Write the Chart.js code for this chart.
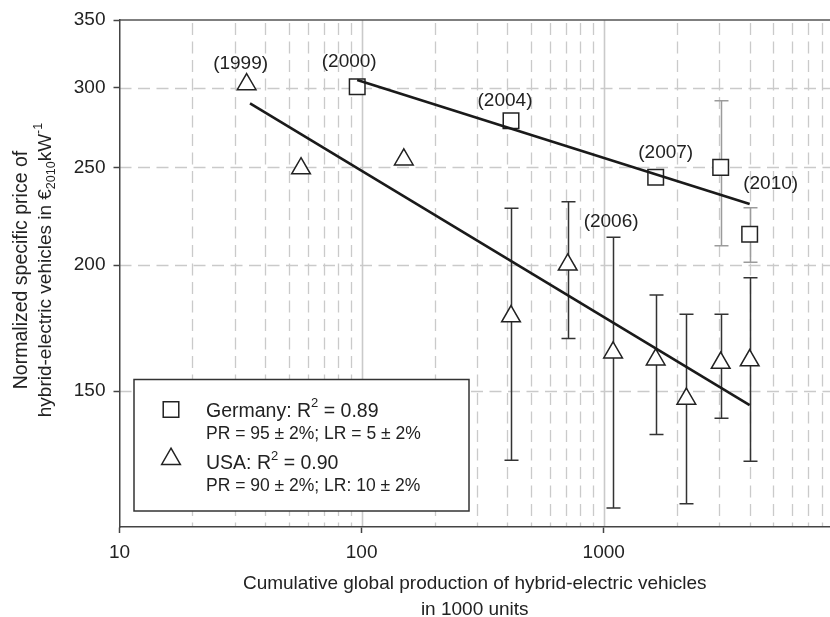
<!DOCTYPE html>
<html>
<head>
<meta charset="utf-8">
<script src="https://cdn.jsdelivr.net/npm/chart.js@4"></script>
<style>
  html, body { margin: 0; padding: 0; background: #fff; }
  #wrap { width: 830px; height: 617px; }
</style>
</head>
<body>
<div id="wrap"><canvas id="c" width="830" height="617"></canvas></div>
<script>
// Germany (squares): cumulative production (1000 units) and price (EUR2010/kW)
const germanyProduction = [95.9, 414, 1639, 3041, 4006];
const germanyPrice      = [300.5, 278.1, 244.4, 250.0, 214.6];
const germanyErrLow     = [null, null, null, 209.1, 201.3];
const germanyErrHigh    = [null, null, null, 291.1, 228.0];

// USA (triangles)
const usaProduction = [33.5, 56.2, 149.4, 414, 710, 1093, 1639, 2194, 3041, 4006];
const usaPrice      = [302.2, 249.4, 254.5, 177.9, 200.2, 163.8, 161.2, 147.4, 160.0, 160.9];
const usaErrLow     = [null, null, null, 128.1, 169.2, 114.9, 135.9, 116.0, 141.0, 127.8];
const usaErrHigh    = [null, null, null, 227.7, 231.1, 213.1, 186.8, 178.8, 178.8, 194.3];

// Fitted experience curves (end points)
const germanyFitX = [95.9, 4006];
const germanyFitY = [305.2, 229.9];
const usaFitX     = [34.6, 4006];
const usaFitY     = [289.4, 145.3];

// Axis ticks
const xTickValues = [10, 20, 30, 40, 50, 60, 70, 80, 90,
                     100, 200, 300, 400, 500, 600, 700, 800, 900,
                     1000, 2000, 3000, 4000, 5000, 6000, 7000, 8000];
const xTickLabels = ['10', '100', '1000'];
const yTickValues = [150, 200, 250, 300, 350];

// Year annotations
const yearLabels = ['(1999)', '(2000)', '(2004)', '(2007)', '(2010)', '(2006)'];

const FONT = "'Liberation Sans', Arial, Helvetica, sans-serif";
const font = (s) => s + 'px ' + FONT;
const TEXT = '#222';
const GRID = '#cacaca';

// where each year annotation sits relative to its mark
const yearPlacement = [
  { series: 'usa',     i: 0, at: 'point', dx: -6, dy: -21 },
  { series: 'germany', i: 0, at: 'point', dx: -8, dy: -25 },
  { series: 'germany', i: 1, at: 'point', dx: -6, dy: -20 },
  { series: 'germany', i: 2, at: 'point', dx: 10, dy: -24.5 },
  { series: 'germany', i: 4, at: 'high',  dx: 21, dy: -23.5 },
  { series: 'usa',     i: 5, at: 'high',  dx: -2, dy: -15.5 }
];

const seriesData = {
  germany: { x: germanyProduction, y: germanyPrice, lo: germanyErrLow, hi: germanyErrHigh, color: '#9b9b9b' },
  usa:     { x: usaProduction,     y: usaPrice,     lo: usaErrLow,     hi: usaErrHigh,     color: '#333' }
};

const toPoints = (xs, ys) => xs.map((v, k) => ({ x: v, y: ys[k] }));

function runsWidth(ctx, runs) {
  let w = 0;
  for (const r of runs) { ctx.font = font(r.size); w += ctx.measureText(r.t).width; }
  return w;
}
function drawRuns(ctx, runs, x, y, align) {
  const w = runsWidth(ctx, runs);
  let cx = align === 'center' ? x - w / 2 : x;
  ctx.textAlign = 'left';
  ctx.textBaseline = 'alphabetic';
  for (const r of runs) {
    ctx.font = font(r.size);
    ctx.fillText(r.t, cx, y + (r.dy || 0));
    cx += ctx.measureText(r.t).width;
  }
}

function marker(ctx, style, x, y, r) {
  ctx.save();
  ctx.fillStyle = '#fff';
  ctx.strokeStyle = '#222';
  ctx.lineWidth = 1.5;
  if (window.Chart && Chart.helpers && Chart.helpers.drawPoint) {
    Chart.helpers.drawPoint(ctx, { pointStyle: style, radius: r, rotation: 0, borderWidth: 1.5 }, x, y);
  } else {
    ctx.beginPath();
    if (style === 'rect') {
      const s = Math.SQRT1_2 * r;
      ctx.rect(x - s, y - s, 2 * s, 2 * s);
    } else {
      ctx.moveTo(x, y - r);
      ctx.lineTo(x + 0.866 * r, y + 0.5 * r);
      ctx.lineTo(x - 0.866 * r, y + 0.5 * r);
      ctx.closePath();
    }
    ctx.fill(); ctx.stroke();
  }
  ctx.restore();
}

const decorPlugin = {
  id: 'decor',
  beforeDraw(chart) {
    const ctx = chart.ctx;
    const { left, right, top, bottom } = chart.chartArea;
    const xs = chart.scales.x, ys = chart.scales.y;
    ctx.save();
    ctx.fillStyle = '#fff';
    ctx.fillRect(0, 0, chart.width, chart.height);

    ctx.strokeStyle = GRID;
    ctx.lineWidth = 1.3;
    // minor (dashed) vertical grid
    ctx.setLineDash([12, 6.5]);
    ctx.lineDashOffset = -3;
    for (const v of xTickValues) {
      if (v === 10 || v === 100 || v === 1000) continue;
      const px = Math.round(xs.getPixelForValue(v)) + 0.5;
      if (px > right + 1) continue;
      ctx.beginPath(); ctx.moveTo(px, top); ctx.lineTo(px, bottom); ctx.stroke();
    }
    // dashed horizontal grid
    ctx.lineDashOffset = 0;
    for (const v of yTickValues) {
      if (v === 350) continue;
      const py = Math.round(ys.getPixelForValue(v)) + 0.5;
      ctx.beginPath(); ctx.moveTo(left, py); ctx.lineTo(right, py); ctx.stroke();
    }
    // solid decade lines
    ctx.setLineDash([]);
    ctx.lineWidth = 1.6;
    for (const v of [100, 1000]) {
      const px = Math.round(xs.getPixelForValue(v)) + 0.5;
      ctx.beginPath(); ctx.moveTo(px, top); ctx.lineTo(px, bottom); ctx.stroke();
    }
    // top frame
    ctx.strokeStyle = '#555';
    ctx.lineWidth = 1.5;
    ctx.beginPath(); ctx.moveTo(left, top); ctx.lineTo(right, top); ctx.stroke();
    ctx.restore();
  },
  beforeDatasetsDraw(chart) {
    const ctx = chart.ctx;
    const xs = chart.scales.x, ys = chart.scales.y;
    ctx.save();
    ctx.lineWidth = 1.5;
    for (const key of ['germany', 'usa']) {
      const s = seriesData[key];
      ctx.strokeStyle = s.color;
      for (let k = 0; k < s.x.length; k++) {
        if (s.lo[k] == null) continue;
        const px = Math.round(xs.getPixelForValue(s.x[k])) + 0.5;
        const yl = ys.getPixelForValue(s.lo[k]);
        const yh = ys.getPixelForValue(s.hi[k]);
        ctx.beginPath();
        ctx.moveTo(px, yl); ctx.lineTo(px, yh);
        ctx.moveTo(px - 7, yl); ctx.lineTo(px + 7, yl);
        ctx.moveTo(px - 7, yh); ctx.lineTo(px + 7, yh);
        ctx.stroke();
      }
    }
    ctx.restore();
  },
  afterDatasetsDraw(chart) {
    const ctx = chart.ctx;
    const xs = chart.scales.x, ys = chart.scales.y;
    const { left, right } = chart.chartArea;
    ctx.save();
    ctx.fillStyle = TEXT;

    // year annotations
    ctx.font = font(19);
    ctx.textAlign = 'center';
    ctx.textBaseline = 'middle';
    yearPlacement.forEach((p, n) => {
      const s = seriesData[p.series];
      const vy = p.at === 'high' ? s.hi[p.i] : s.y[p.i];
      const px = xs.getPixelForValue(s.x[p.i]) + p.dx;
      const py = ys.getPixelForValue(vy) + p.dy;
      ctx.fillText(yearLabels[n], px, py);
    });

    // legend box
    ctx.fillStyle = '#fff';
    ctx.fillRect(134, 379.5, 335, 131.5);
    ctx.strokeStyle = '#333';
    ctx.lineWidth = 1.5;
    ctx.strokeRect(134, 379.5, 335, 131.5);
    marker(ctx, 'rect', 171, 409.5, 11);
    marker(ctx, 'triangle', 171, 459, 10.8);
    ctx.fillStyle = TEXT;
    drawRuns(ctx, [{ t: 'Germany: R', size: 19.5 }, { t: '2', size: 13, dy: -9.5 }, { t: ' = 0.89', size: 19.5 }], 206, 416.7, 'left');
    drawRuns(ctx, [{ t: 'PR = 95 ± 2%; LR = 5 ± 2%', size: 17.5 }], 206, 439, 'left');
    drawRuns(ctx, [{ t: 'USA: R', size: 19.5 }, { t: '2', size: 13, dy: -9.5 }, { t: ' = 0.90', size: 19.5 }], 206, 469.3, 'left');
    drawRuns(ctx, [{ t: 'PR = 90 ± 2%; LR: 10 ± 2%', size: 17.5 }], 206, 490.7, 'left');

    // axis titles
    const cx = (left + right) / 2;
    drawRuns(ctx, [{ t: 'Cumulative global production of hybrid-electric vehicles', size: 19 }], cx, 589.3, 'center');
    drawRuns(ctx, [{ t: 'in 1000 units', size: 19 }], cx, 615, 'center');

    const cy = 270;
    ctx.save();
    ctx.translate(26.7, cy);
    ctx.rotate(-Math.PI / 2);
    drawRuns(ctx, [{ t: 'Normalized specific price of', size: 19.5 }], 0, 0, 'center');
    ctx.restore();
    ctx.save();
    ctx.translate(50.7, cy);
    ctx.rotate(-Math.PI / 2);
    drawRuns(ctx, [
      { t: 'hybrid-electric vehicles in €', size: 19 },
      { t: '2010', size: 12.5, dy: 4 },
      { t: 'kW', size: 19 },
      { t: '-1', size: 12.5, dy: -8.5 }
    ], 0, 0, 'center');
    ctx.restore();

    ctx.restore();
  }
};

const xLabelFor = (v) => {
  const s = String(Math.round(v));
  return xTickLabels.includes(s) ? s : '';
};

new Chart(document.getElementById('c'), {
  type: 'scatter',
  data: {
    datasets: [
      {
        label: 'Germany fit',
        data: toPoints(germanyFitX, germanyFitY),
        showLine: true, pointRadius: 0, borderColor: '#1a1a1a', borderWidth: 2.6, fill: false
      },
      {
        label: 'USA fit',
        data: toPoints(usaFitX, usaFitY),
        showLine: true, pointRadius: 0, borderColor: '#1a1a1a', borderWidth: 2.6, fill: false
      },
      {
        label: 'Germany',
        data: toPoints(germanyProduction, germanyPrice),
        pointStyle: 'rect', pointRadius: 11, pointBorderWidth: 1.5,
        pointBackgroundColor: '#fff', pointBorderColor: '#222'
      },
      {
        label: 'USA',
        data: toPoints(usaProduction, usaPrice),
        pointStyle: 'triangle', pointRadius: 10.8, pointBorderWidth: 1.5,
        pointBackgroundColor: '#fff', pointBorderColor: '#222'
      }
    ]
  },
  options: {
    responsive: false,
    animation: false,
    events: [],
    layout: { autoPadding: false, padding: { top: 20, left: 0, right: 0, bottom: 0 } },
    plugins: { legend: { display: false }, tooltip: { enabled: false } },
    scales: {
      x: {
        type: 'logarithmic',
        min: 10, max: 8600,
        afterBuildTicks: (s) => { s.ticks = xTickValues.map(v => ({ value: v })); },
        afterFit: (s) => { s.height = 90; s.paddingRight = 0; s.paddingLeft = 0; },
        ticks: {
          autoSkip: false, maxRotation: 0, minRotation: 0, padding: 8,
          color: TEXT, font: { family: FONT, size: 19 },
          callback: (v) => xLabelFor(v)
        },
        grid: {
          drawOnChartArea: false, drawTicks: true, tickLength: 6, tickWidth: 1.5,
          tickColor: (c) => (c.tick && xLabelFor(c.tick.value) !== '') ? '#444' : 'rgba(0,0,0,0)'
        },
        border: { display: true, color: '#444', width: 1.5 }
      },
      y: {
        type: 'logarithmic',
        min: 110, max: 350,
        afterBuildTicks: (s) => { s.ticks = yTickValues.map(v => ({ value: v })); },
        afterFit: (s) => { s.width = 119.5; s.paddingTop = 0; s.paddingBottom = 0; },
        ticks: {
          autoSkip: false, padding: 8,
          color: TEXT, font: { family: FONT, size: 19 },
          callback: (v) => String(Math.round(v))
        },
        grid: { drawOnChartArea: false, drawTicks: true, tickLength: 6, tickWidth: 1.5, tickColor: '#444' },
        border: { display: true, color: '#444', width: 1.5 }
      }
    }
  },
  plugins: [decorPlugin]
});
</script>
</body>
</html>
